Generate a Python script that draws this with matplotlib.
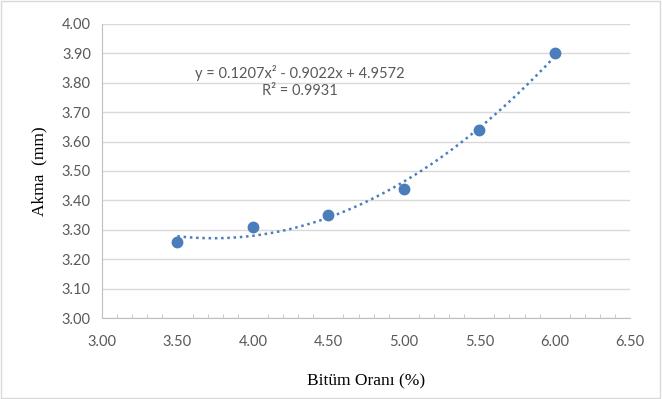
import numpy as np
import matplotlib.pyplot as plt
from matplotlib.patches import Rectangle
from matplotlib.ticker import MultipleLocator

# data
bitum = [3.5, 4.0, 4.5, 5.0, 5.5, 6.0]
akma = [3.26, 3.31, 3.35, 3.44, 3.64, 3.90]
trend_coef = [0.1207, -0.9022, 4.9572]
equation = "y = 0.1207x² - 0.9022x + 4.9572"
r2_text = "R² = 0.9931"

blue = "#4a7ebb"
tick_font = "Lato"
label_font = "Liberation Serif"

fig = plt.figure(figsize=(6.62, 3.99), dpi=100)
fig.patches.append(Rectangle((0.002, 0.003), 0.995, 0.994, transform=fig.transFigure,
                             fill=False, edgecolor="#d9d9d9", linewidth=1))
ax = fig.add_axes([0.154, 0.203, 0.798, 0.737])

ax.set_xlim(3.0, 6.5)
ax.set_ylim(3.0, 4.0)
ax.xaxis.set_major_locator(MultipleLocator(0.5))
ax.xaxis.set_minor_locator(MultipleLocator(0.1))
ax.yaxis.set_major_locator(MultipleLocator(0.1))
ax.grid(axis="y", color="#d9d9d9", linewidth=1)
ax.set_axisbelow(True)

for s in ["top", "right"]:
    ax.spines[s].set_visible(False)
for s in ["left", "bottom"]:
    ax.spines[s].set_color("#bfbfbf")

ax.tick_params(axis="x", which="major", direction="in", length=0, colors="#bfbfbf",
               labelcolor="#595959", labelsize=10.5, pad=12)
ax.tick_params(axis="x", which="minor", direction="in", length=3, color="#bfbfbf")
ax.tick_params(axis="y", length=0, labelcolor="#595959", labelsize=10.5, pad=8)
ax.set_xticks(np.arange(3.0, 6.51, 0.5))
ax.set_xticklabels([f"{v:.2f}" for v in np.arange(3.0, 6.51, 0.5)], fontfamily=tick_font)
ax.set_yticks(np.arange(3.0, 4.01, 0.1))
ax.set_yticklabels([f"{v:.2f}" for v in np.arange(3.0, 4.01, 0.1)], fontfamily=tick_font)

xs = np.linspace(bitum[0], bitum[-1], 200)
ax.plot(xs, np.polyval(trend_coef, xs), linestyle=(0, (1, 1.5)), color=blue, linewidth=1.8)
ax.plot(bitum, akma, "o", color=blue, markersize=7.5, zorder=3)

ax.text(0.375, 0.833, equation, transform=ax.transAxes, ha="center", va="center",
        fontsize=10.5, color="#595959", fontfamily=tick_font)
ax.text(0.375, 0.772, r2_text, transform=ax.transAxes, ha="center", va="center",
        fontsize=10.5, color="#595959", fontfamily=tick_font)

ax.set_xlabel("Bitüm Oranı (%)", fontfamily=label_font, fontsize=12.5, labelpad=18)
ax.set_ylabel("Akma  (mm)", fontfamily=label_font, fontsize=12.5, labelpad=10)

fig.savefig("out.png", dpi=100)
